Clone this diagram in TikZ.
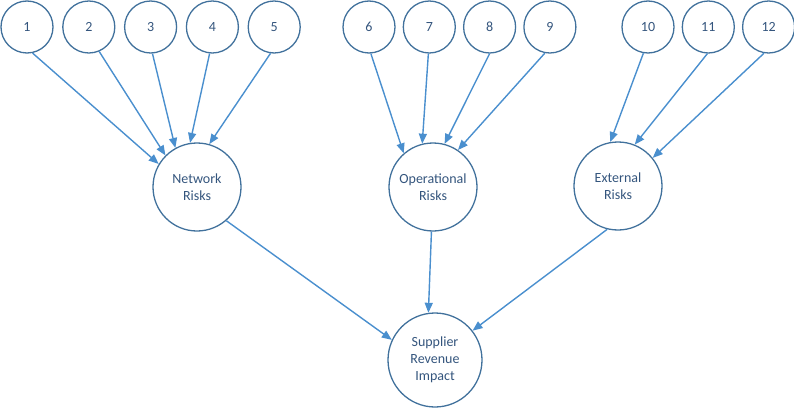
\documentclass[tikz,border=0pt]{standalone}
\usepackage{fontspec}
\setmainfont{Carlito}
\usepackage{tikz}
\usetikzlibrary{arrows.meta}
\usetikzlibrary{positioning}
\definecolor{ringblue}{HTML}{41719C}
\definecolor{lineblue}{HTML}{4A8FCE}
\definecolor{textblue}{HTML}{34557D}

\begin{document}
\begin{tikzpicture}[x=1pt,y=-1pt,>={Triangle[length=10pt,width=8pt]},auto]
		\tikzstyle{factor}=[circle,draw=ringblue,line width=1.3pt,minimum size=52pt,inner sep=0pt,
			text=textblue,font=\fontsize{14}{17}\selectfont];
		\tikzstyle{group}=[factor,minimum size=88pt,align=center];
		\tikzstyle{impact}=[group,minimum size=94pt];
		\tikzstyle{link}=[->,draw=lineblue,line width=1.4pt];
		\useasboundingbox (0,0) rectangle (794,409);

		\node[factor](r1) at (27,27){1};
		\node[factor,right=8.5pt of r1](r2){2};
		\node[factor,right=8.5pt of r2](r3){3};
		\node[factor,right=8.5pt of r3](r4){4};
		\node[factor,right=8.5pt of r4](r5){5};

		\node[factor](r6) at (369,27){6};
		\node[factor,right=7pt of r6](r7){7};
		\node[factor,right=7pt of r7](r8){8};
		\node[factor,right=7pt of r8](r9){9};

		\node[factor](r10) at (648,27){10};
		\node[factor,right=7pt of r10](r11){11};
		\node[factor,right=7pt of r11](r12){12};

		\node[group](net) at (197,187){Network\\Risks};
		\node[group](ops) at (433,187){Operational\\Risks};
		\node[group](ext) at (618,186){External\\Risks};
		\node[impact](imp) at (435,360){Supplier\\Revenue\\Impact};

		\draw[link](r1.-78)--(net.149);
		\draw[link](r2.-67)--(net.135);
		\draw[link](r3.-86)--(net.119);
		\draw[link](r4.-96)--(net.99);
		\draw[link](r5.-98)--(net.74);

		\draw[link](r6.-86)--(ops.131);
		\draw[link](r7.-92)--(ops.104);
		\draw[link](r8.-90)--(ops.75);
		\draw[link](r9.-101)--(ops.56);

		\draw[link](r10.-100)--(ext.100);
		\draw[link](r11.-92)--(ext.68);
		\draw[link](r12.-100)--(ext.39);

		\draw[link](net.-49)--(imp.155);
		\draw[link](ops.-92)--(imp.98);
		\draw[link](ext.-104)--(imp.38);
	\end{tikzpicture}
\end{document}
